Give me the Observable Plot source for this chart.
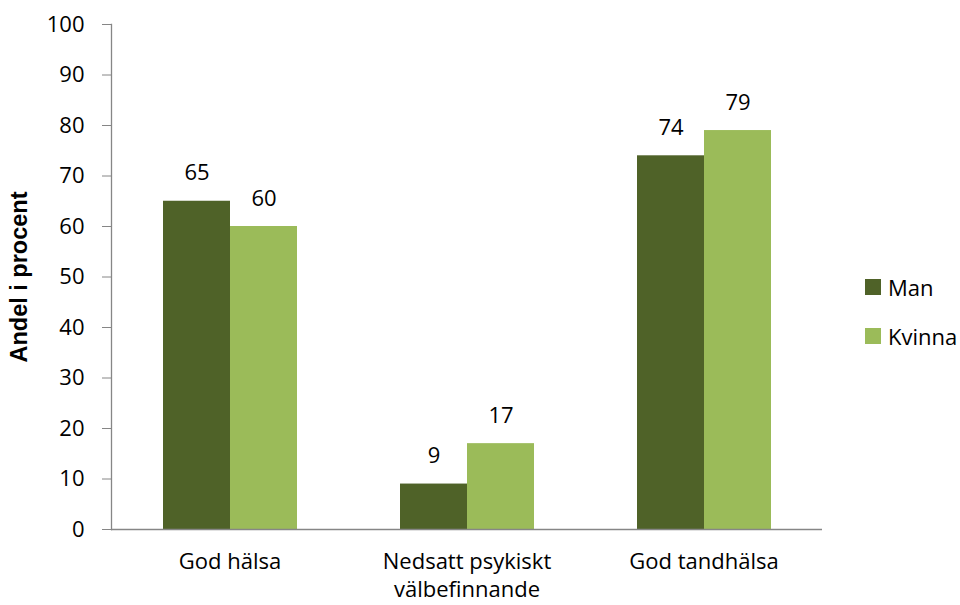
<!DOCTYPE html>
<html>
<head>
<meta charset="utf-8">
<script src="https://cdn.jsdelivr.net/npm/d3@7"></script>
<script src="https://cdn.jsdelivr.net/npm/@observablehq/plot@0.6"></script>
<style>
  body { margin: 0; background: #fff; }
  #wrap { position: relative; width: 960px; height: 605px; overflow: hidden; }
  #legend { position: absolute; left: 865px; top: 279px; font-family: "Open Sans", sans-serif; font-size: 22px; color: #000; }
  .item { display: flex; align-items: center; height: 16px; margin-bottom: 33px; }
  .sw { width: 16px; height: 16px; margin-right: 7px; }
  #ytitle { position: absolute; left: 19px; top: 277px; transform: translate(-50%, -50%) rotate(-90deg);
            font-family: "Liberation Sans", Arial, sans-serif; font-weight: bold; font-size: 23.5px; white-space: nowrap; color: #000; }
</style>
</head>
<body>
<div id="wrap"></div>
<script>
const categories = ["God hälsa", "Nedsatt psykiskt\nvälbefinnande", "God tandhälsa"];
const genders = ["Man", "Kvinna"];
const man = [65, 9, 74];
const kvinna = [60, 17, 79];
const yTicks = [0, 10, 20, 30, 40, 50, 60, 70, 80, 90, 100];
const colors = ["#4F6228", "#9BBB59"];
const yTitle = "Andel i procent";

const data = categories.flatMap((c, i) => [
  {cat: c, gender: genders[0], value: man[i]},
  {cat: c, gender: genders[1], value: kvinna[i]}
]);

const axisColor = "#868686";

const plot = Plot.plot({
  width: 960,
  height: 605,
  marginLeft: 110,
  marginRight: 138,
  marginTop: 24,
  marginBottom: 76,
  style: {fontFamily: "'Open Sans', sans-serif", fontSize: "22px", color: "#000", background: "white"},
  fx: {domain: categories, padding: 0, label: null},
  x: {domain: genders, paddingInner: 0, paddingOuter: 0.753, axis: null},
  y: {domain: [0, 100], axis: null},
  color: {domain: genders, range: colors},
  marks: [
    Plot.barY(data, {fx: "cat", x: "gender", y: "value", fill: "gender"}),
    Plot.text(data, {fx: "cat", x: "gender", y: "value", text: d => String(d.value), dy: -28, lineAnchor: "middle", fontSize: 22, fill: "#000"}),
    Plot.axisY({ticks: yTicks, tickSize: 9, tickPadding: 18, stroke: axisColor, label: null, fill: "#000"}),
    Plot.axisFx({anchor: "bottom", tickSize: 0, tickPadding: 20, lineHeight: 1.25, label: null, fill: "#000"}),
    Plot.ruleY([0], {stroke: axisColor, strokeWidth: 1.3}),
    Plot.frame({anchor: "left", facet: "super", stroke: axisColor, strokeWidth: 1.3})
  ]
});

const wrap = document.getElementById("wrap");
wrap.appendChild(plot);

const legend = document.createElement("div");
legend.id = "legend";
genders.forEach((g, i) => {
  const it = document.createElement("div");
  it.className = "item";
  const sw = document.createElement("div");
  sw.className = "sw";
  sw.style.background = colors[i];
  const t = document.createElement("span");
  t.textContent = g;
  it.appendChild(sw); it.appendChild(t);
  legend.appendChild(it);
});
wrap.appendChild(legend);

const title = document.createElement("div");
title.id = "ytitle";
title.textContent = yTitle;
wrap.appendChild(title);
</script>
</body>
</html>
